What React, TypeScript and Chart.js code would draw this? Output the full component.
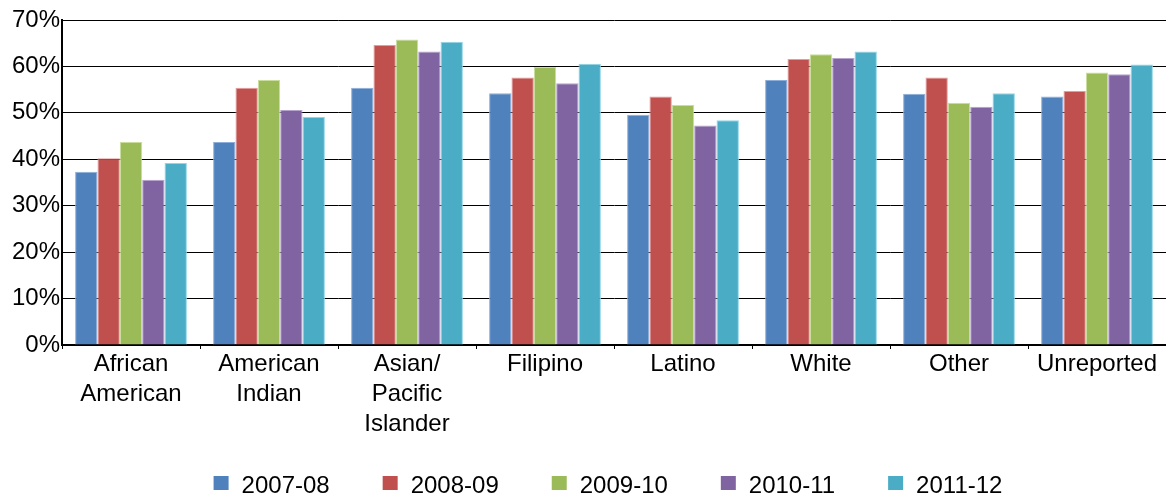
import React, { useEffect, useRef } from "react";
import { Chart, registerables } from "chart.js";

Chart.register(...registerables);

const categories: string[][] = [
  ["African", "American"],
  ["American", "Indian"],
  ["Asian/", "Pacific", "Islander"],
  ["Filipino"],
  ["Latino"],
  ["White"],
  ["Other"],
  ["Unreported"],
];

const seriesLabels = ["2007-08", "2008-09", "2009-10", "2010-11", "2011-12"];

const values0708 = [37.3, 43.7, 55.4, 54.2, 49.6, 57.1, 54.1, 53.5];
const values0809 = [40.2, 55.4, 64.6, 57.6, 53.5, 61.6, 57.6, 54.7];
const values0910 = [43.7, 57.1, 65.8, 59.9, 51.7, 62.6, 52.2, 58.7];
const values1011 = [35.6, 50.6, 63.2, 56.4, 47.3, 61.8, 51.3, 58.3];
const values1112 = [39.2, 49.1, 65.3, 60.6, 48.4, 63.2, 54.2, 60.4];

const yTicks = [0, 10, 20, 30, 40, 50, 60, 70];

const fillColors = ["#4F81BD", "#C0504D", "#9BBB59", "#8064A2", "#4BACC6"];
const edgeColors = ["#8DAEDA", "#E39C9A", "#C9DE9C", "#B5A3CE", "#93D5E6"];

const FONT = "'Liberation Sans', Arial, Helvetica, sans-serif";

const legendPlugin = {
  id: "customLegend",
  afterDraw(chart: any) {
    const ctx = chart.ctx;
    const ds = chart.data.datasets;
    ctx.save();
    ctx.font = `24px ${FONT}`;
    ctx.textBaseline = "middle";
    ctx.textAlign = "left";
    const boxW = 15;
    const boxH = 14;
    const textOff = 28;
    const gap = 53;
    const widths = ds.map((d: any) => textOff + ctx.measureText(d.label).width);
    const total = widths.reduce((a: number, b: number) => a + b, 0) + gap * (ds.length - 1);
    const center = (chart.chartArea.left + chart.chartArea.right) / 2 - 6;
    let x = center - total / 2;
    const y = 486;
    ds.forEach((d: any, i: number) => {
      ctx.fillStyle = d.backgroundColor;
      ctx.fillRect(x, y - boxH / 2 - 3, boxW, boxH);
      ctx.fillStyle = "#000";
      ctx.fillText(d.label, x + textOff, y);
      x += widths[i] + gap;
    });
    ctx.restore();
  },
};

export default function App() {
  const ref = useRef<HTMLCanvasElement | null>(null);

  useEffect(() => {
    if (!ref.current) return;
    const series = [values0708, values0809, values0910, values1011, values1112];
    const chart = new Chart(ref.current, {
      type: "bar",
      data: {
        labels: categories,
        datasets: series.map((vals, i) => ({
          label: seriesLabels[i],
          data: vals,
          backgroundColor: fillColors[i],
          borderColor: edgeColors[i],
          borderWidth: 1,
          categoryPercentage: 0.81,
          barPercentage: 1.0,
        })),
      },
      options: {
        animation: false,
        responsive: true,
        maintainAspectRatio: false,
        layout: { padding: { top: 20, right: 0, bottom: 69, left: 0 } },
        plugins: {
          legend: { display: false },
          tooltip: { enabled: false },
        },
        scales: {
          x: {
            grid: {
              offset: true,
              drawOnChartArea: false,
              drawTicks: true,
              tickLength: 4,
              color: "#000",
              lineWidth: 1,
            },
            border: { color: "#000", width: 2 },
            ticks: {
              color: "#000",
              font: { family: FONT, size: 24, lineHeight: 1.25 },
              padding: 0,
              maxRotation: 0,
              autoSkip: false,
            },
            afterFit(scale: any) {
              scale.height = 90;
            },
          },
          y: {
            min: 0,
            max: 70,
            afterBuildTicks(scale: any) {
              scale.ticks = yTicks.map((v) => ({ value: v }));
            },
            grid: {
              color: "#000",
              lineWidth: 1,
              drawTicks: false,
            },
            border: { color: "#000", width: 2 },
            ticks: {
              color: "#000",
              font: { family: FONT, size: 24 },
              padding: 2,
              callback: (v: any) => `${v}%`,
            },
            afterFit(scale: any) {
              scale.width = 62;
            },
          },
        },
      },
      plugins: [legendPlugin],
    });
    return () => chart.destroy();
  }, []);

  return (
    <div style={{ position: "absolute", left: 0, top: 0, width: 1166, height: 504, background: "#fff" }}>
      <canvas ref={ref} />
    </div>
  );
}
